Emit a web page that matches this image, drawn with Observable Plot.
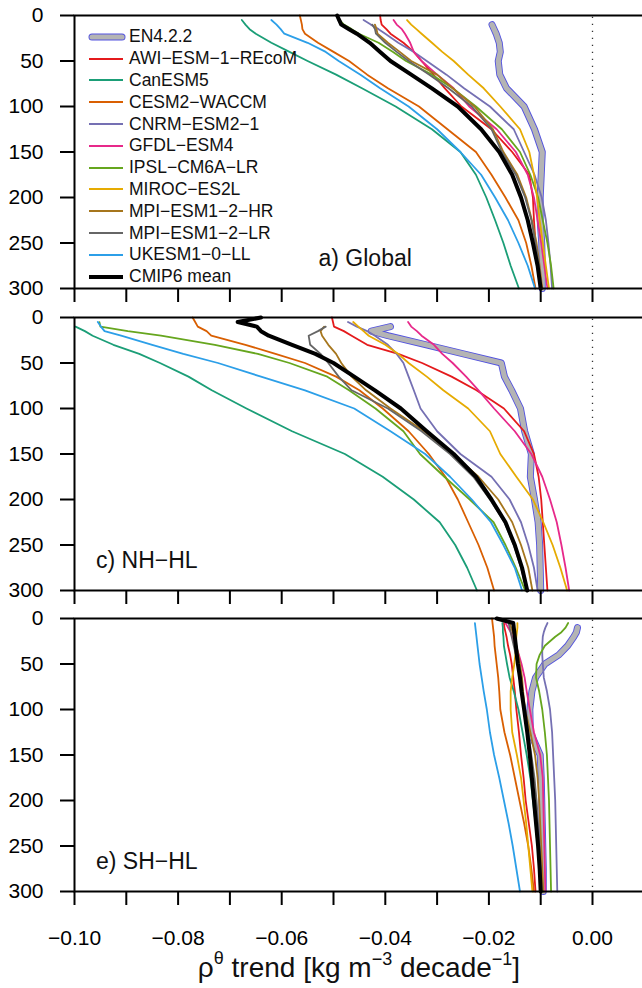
<!DOCTYPE html>
<html>
<head>
<meta charset="utf-8">
<script src="https://cdn.jsdelivr.net/npm/d3@7"></script>
<script src="https://cdn.jsdelivr.net/npm/@observablehq/plot@0.6"></script>
<style>
  html, body { margin: 0; padding: 0; background: #fff; overflow: hidden; }
  #wrap { position: relative; width: 642px; height: 988px; font-family: "Liberation Sans", Arial, Helvetica, sans-serif; }
  #wrap svg { display: block; }
  #legend { position: absolute; left: 88px; top: 26px; }
  .row { height: 21.8px; display: flex; align-items: center; font-size: 17.5px; color: #111; white-space: nowrap; }
  .row svg { margin-right: 3px; }
</style>
</head>
<body>
<div id="wrap"><div id="plots"></div><div id="legend"></div></div>
<script>
const N = null;
const depths = [0, 5, 10, 15, 20, 30, 40, 50, 65, 80, 100, 125, 150, 175, 200, 225, 250, 275, 300];

const models = ["EN4.2.2", "AWI−ESM−1−REcoM", "CanESM5", "CESM2−WACCM", "CNRM−ESM2−1", "GFDL−ESM4",
  "IPSL−CM6A−LR", "MIROC−ES2L", "MPI−ESM1−2−HR", "MPI−ESM1−2−LR", "UKESM1−0−LL", "CMIP6 mean"];
const colors = ["#b4b4b4", "#e41a1c", "#1b9e77", "#d95f02", "#7570b3", "#e7298a",
  "#66a61e", "#e6ab02", "#a6761d", "#666666", "#2c9fe8", "#000000"];

// a) Global
const globalTrend = [
  [N, N, -0.0194, -0.0190, -0.0186, -0.0180, -0.0178, -0.0182, -0.0179, -0.0166, -0.0132, -0.0112, -0.0097, -0.0099, -0.0101, -0.0101, -0.0098, -0.0097, -0.0097],
  [-0.0410, -0.0409, -0.0407, -0.0398, -0.0390, -0.0365, -0.0345, -0.0330, -0.0307, -0.0285, -0.0253, -0.0195, -0.0155, -0.0122, -0.0115, -0.0113, -0.0110, -0.0104, -0.0098],
  [N, -0.0677, -0.0670, -0.0662, -0.0650, -0.0620, -0.0585, -0.0550, -0.0495, -0.0445, -0.0380, -0.0310, -0.0255, -0.0225, -0.0205, -0.0188, -0.0172, -0.0158, -0.0142],
  [-0.0565, -0.0563, -0.0561, -0.0560, -0.0555, -0.0530, -0.0500, -0.0470, -0.0435, -0.0395, -0.0335, -0.0280, -0.0225, -0.0195, -0.0168, -0.0143, -0.0128, -0.0118, -0.0110],
  [N, -0.0442, -0.0428, -0.0413, -0.0400, -0.0375, -0.0345, -0.0320, -0.0282, -0.0248, -0.0198, -0.0152, -0.0132, -0.0112, -0.0098, -0.0090, -0.0085, -0.0081, -0.0078],
  [N, -0.0384, -0.0378, -0.0368, -0.0362, -0.0352, -0.0345, -0.0330, -0.0300, -0.0268, -0.0238, -0.0185, -0.0148, -0.0125, -0.0113, -0.0106, -0.0099, -0.0093, -0.0087],
  [N, -0.0488, -0.0480, -0.0465, -0.0451, -0.0413, -0.0385, -0.0360, -0.0310, -0.0270, -0.0225, -0.0175, -0.0140, -0.0120, -0.0105, -0.0096, -0.0087, -0.0080, -0.0075],
  [N, -0.0358, -0.0350, -0.0340, -0.0330, -0.0310, -0.0290, -0.0268, -0.0240, -0.0210, -0.0178, -0.0140, -0.0122, -0.0113, -0.0107, -0.0102, -0.0096, -0.0090, -0.0084],
  [N, N, -0.0420, -0.0417, -0.0415, -0.0395, -0.0372, -0.0350, -0.0300, -0.0270, -0.0228, -0.0192, -0.0172, -0.0145, -0.0128, -0.0117, -0.0108, -0.0102, -0.0097],
  [N, N, -0.0425, -0.0420, -0.0418, -0.0400, -0.0378, -0.0355, -0.0315, -0.0278, -0.0233, -0.0195, -0.0175, -0.0148, -0.0130, -0.0118, -0.0110, -0.0103, -0.0099],
  [N, -0.0620, -0.0610, -0.0602, -0.0595, -0.0550, -0.0515, -0.0490, -0.0448, -0.0410, -0.0355, -0.0300, -0.0255, -0.0215, -0.0188, -0.0163, -0.0143, -0.0125, -0.0111],
  [-0.0493, -0.0489, -0.0485, -0.0470, -0.0455, -0.0430, -0.0410, -0.0390, -0.0350, -0.0310, -0.0260, -0.0215, -0.0180, -0.0155, -0.0138, -0.0125, -0.0115, -0.0106, -0.0100]
];

// c) NH-HL
const nhTrend = [
  [N, N, -0.0390, -0.0427, -0.0395, -0.0321, -0.0249, -0.0176, -0.0170, -0.0156, -0.0139, -0.0131, -0.0118, -0.0120, -0.0112, -0.0105, -0.0102, -0.0101, -0.0100],
  [-0.0503, -0.0501, -0.0499, -0.0480, -0.0465, -0.0435, -0.0375, -0.0329, -0.0272, -0.0224, -0.0171, -0.0132, -0.0113, -0.0104, -0.0099, -0.0096, -0.0093, -0.0090, -0.0087],
  [N, N, -0.0998, -0.0980, -0.0965, -0.0925, -0.0875, -0.0835, -0.0780, -0.0735, -0.0668, -0.0580, -0.0478, -0.0405, -0.0345, -0.0295, -0.0265, -0.0242, -0.0223],
  [-0.0772, -0.0767, -0.0762, -0.0745, -0.0736, -0.0670, -0.0612, -0.0555, -0.0495, -0.0450, -0.0405, -0.0355, -0.0316, -0.0284, -0.0260, -0.0240, -0.0220, -0.0203, -0.0190],
  [N, -0.0472, -0.0455, -0.0435, -0.0420, -0.0395, -0.0378, -0.0365, -0.0355, -0.0345, -0.0332, -0.0300, -0.0255, -0.0195, -0.0160, -0.0138, -0.0124, -0.0113, -0.0106],
  [N, -0.0356, -0.0350, -0.0339, -0.0330, -0.0306, -0.0290, -0.0270, -0.0244, -0.0220, -0.0190, -0.0150, -0.0118, -0.0097, -0.0082, -0.0069, -0.0060, -0.0052, -0.0045],
  [N, -0.0952, -0.0950, -0.0897, -0.0833, -0.0729, -0.0646, -0.0585, -0.0512, -0.0470, -0.0419, -0.0365, -0.0333, -0.0286, -0.0237, -0.0191, -0.0168, -0.0148, -0.0130],
  [N, -0.0462, -0.0452, -0.0442, -0.0432, -0.0400, -0.0375, -0.0355, -0.0320, -0.0288, -0.0240, -0.0198, -0.0178, -0.0147, -0.0115, -0.0095, -0.0077, -0.0062, -0.0049],
  [N, N, -0.0518, -0.0525, -0.0522, -0.0510, -0.0495, -0.0485, -0.0465, -0.0437, -0.0390, -0.0325, -0.0270, -0.0220, -0.0182, -0.0155, -0.0138, -0.0124, -0.0116],
  [N, N, -0.0515, -0.0530, -0.0548, -0.0545, -0.0525, -0.0510, -0.0490, -0.0465, -0.0395, -0.0330, -0.0275, -0.0230, -0.0198, -0.0170, -0.0152, -0.0138, -0.0127],
  [N, -0.0955, -0.0949, -0.0942, -0.0910, -0.0850, -0.0790, -0.0723, -0.0640, -0.0555, -0.0460, -0.0390, -0.0323, -0.0275, -0.0233, -0.0196, -0.0172, -0.0150, -0.0136],
  [-0.0640, -0.0685, -0.0648, -0.0640, -0.0625, -0.0580, -0.0535, -0.0500, -0.0460, -0.0420, -0.0370, -0.0320, -0.0268, -0.0225, -0.0195, -0.0168, -0.0150, -0.0136, -0.0126]
];

// e) SH-HL
const shTrend = [
  [N, N, -0.0029, -0.0031, -0.0036, -0.0048, -0.0065, -0.0092, -0.0110, -0.0117, -0.0121, -0.0120, -0.0101, -0.0099, -0.0098, -0.0097, -0.0096, -0.0095, -0.0095],
  [N, -0.0171, -0.0170, -0.0168, -0.0166, -0.0163, -0.0159, -0.0156, -0.0153, -0.0150, -0.0147, -0.0142, -0.0138, -0.0133, -0.0129, -0.0123, -0.0117, -0.0113, -0.0110],
  [N, -0.0174, -0.0173, -0.0173, -0.0172, -0.0171, -0.0168, -0.0165, -0.0160, -0.0152, -0.0143, -0.0135, -0.0127, -0.0120, -0.0115, -0.0110, -0.0106, -0.0102, -0.0099],
  [-0.0194, -0.0193, -0.0192, -0.0191, -0.0190, -0.0189, -0.0187, -0.0185, -0.0182, -0.0180, -0.0178, -0.0170, -0.0159, -0.0150, -0.0141, -0.0132, -0.0124, -0.0118, -0.0113],
  [N, -0.0087, -0.0091, -0.0094, -0.0096, -0.0097, -0.0097, -0.0096, -0.0094, -0.0088, -0.0082, -0.0078, -0.0076, -0.0074, -0.0072, -0.0071, -0.0070, -0.0069, -0.0068],
  [N, -0.0168, -0.0163, -0.0158, -0.0155, -0.0148, -0.0142, -0.0137, -0.0131, -0.0127, -0.0121, -0.0113, -0.0101, -0.0096, -0.0095, -0.0094, -0.0093, -0.0092, -0.0091],
  [N, -0.0047, -0.0052, -0.0060, -0.0072, -0.0092, -0.0102, -0.0108, -0.0109, -0.0103, -0.0097, -0.0092, -0.0088, -0.0086, -0.0084, -0.0083, -0.0082, -0.0081, -0.0080],
  [N, -0.0145, -0.0145, -0.0146, -0.0147, -0.0148, -0.0149, -0.0151, -0.0155, -0.0158, -0.0158, -0.0155, -0.0146, -0.0138, -0.0133, -0.0128, -0.0124, -0.0120, -0.0116],
  [N, -0.0160, -0.0157, -0.0154, -0.0151, -0.0147, -0.0143, -0.0140, -0.0136, -0.0134, -0.0130, -0.0120, -0.0111, -0.0106, -0.0103, -0.0101, -0.0099, -0.0097, -0.0095],
  [N, -0.0162, -0.0160, -0.0158, -0.0156, -0.0152, -0.0148, -0.0145, -0.0140, -0.0136, -0.0130, -0.0124, -0.0118, -0.0112, -0.0108, -0.0105, -0.0102, -0.0100, -0.0098],
  [N, -0.0227, -0.0226, -0.0225, -0.0224, -0.0222, -0.0220, -0.0218, -0.0214, -0.0210, -0.0204, -0.0198, -0.0190, -0.0180, -0.0171, -0.0162, -0.0154, -0.0147, -0.0140],
  [-0.0185, -0.0153, -0.0152, -0.0151, -0.0150, -0.0148, -0.0146, -0.0144, -0.0140, -0.0137, -0.0132, -0.0126, -0.0121, -0.0117, -0.0113, -0.0109, -0.0105, -0.0102, -0.0100]
];

const panelLabels = ["a) Global", "c) NH−HL", "e) SH−HL"];
const xTicks = [-0.10, -0.09, -0.08, -0.07, -0.06, -0.05, -0.04, -0.03, -0.02, -0.01, 0.00];
const xTickLabels = ["−0.10", "", "−0.08", "", "−0.06", "", "−0.04", "", "−0.02", "", "0.00"];
const yTicks = [0, 50, 100, 150, 200, 250, 300];
const yTickLabels = ["0", "50", "100", "150", "200", "250", "300"];

const FONT = "'Liberation Sans', Arial, Helvetica, sans-serif";
const EN4_EDGE = "#5252e0";

function toRows(values) {
  const out = [];
  values.forEach((arr, i) => arr.forEach((v, j) => {
    if (v !== null) out.push({model: models[i], depth: depths[j], trend: v});
  }));
  return out;
}

function panel(values, label, cfg) {
  const rows = toRows(values);
  const en4 = rows.filter(r => r.model === models[0]);
  const mean = rows.filter(r => r.model === models[11]);
  const others = rows.filter(r => r.model !== models[0] && r.model !== models[11]);
  return Plot.plot({
    width: 642,
    height: cfg.height,
    marginLeft: 74,
    marginRight: -1.8,
    marginTop: cfg.marginTop,
    marginBottom: cfg.marginBottom,
    style: {fontFamily: FONT, background: "white", color: "black"},
    x: {domain: [-0.10, 0.01], axis: null},
    y: {domain: [0, 300], reverse: true, axis: null},
    color: {domain: models, range: colors},
    marks: [
      Plot.ruleX([0], {stroke: "#333", strokeWidth: 1.3, strokeDasharray: "1.3,5.7", y1: 2, y2: 298}),
      Plot.line(en4, {x: "trend", y: "depth", stroke: EN4_EDGE, strokeWidth: 7, strokeLinecap: "round", strokeLinejoin: "round"}),
      Plot.line(en4, {x: "trend", y: "depth", stroke: "#b4b4b4", strokeWidth: 5.2, strokeLinecap: "round", strokeLinejoin: "round"}),
      Plot.line(others, {x: "trend", y: "depth", stroke: "model", strokeWidth: 1.8, strokeLinejoin: "round"}),
      Plot.line(mean, {x: "trend", y: "depth", stroke: "black", strokeWidth: 4, strokeLinejoin: "round"}),
      Plot.frame({stroke: "black", strokeWidth: 2}),
      Plot.axisY({ticks: yTicks, tickSize: 14, tickPadding: 17, fontSize: 21, strokeWidth: 2,
        tickFormat: d => yTickLabels[yTicks.indexOf(d)], label: null}),
      Plot.axisX({ticks: xTicks, anchor: "bottom", tickSize: 14, tickPadding: 25, fontSize: 21, strokeWidth: 2,
        tickFormat: d => cfg.showX ? xTickLabels[xTicks.indexOf(d)] : "", label: null}),
      Plot.text([label], {frameAnchor: "bottom-left", textAnchor: "start", lineAnchor: "middle",
        dx: cfg.labelDx, dy: -29.5, fontSize: 23, fill: "#111"})
    ]
  });
}

const host = document.getElementById("plots");
host.appendChild(panel(globalTrend, panelLabels[0], {height: 302, marginTop: 15, marginBottom: 14, showX: false, labelDx: 244}));
host.appendChild(panel(nhTrend, panelLabels[1], {height: 302, marginTop: 15, marginBottom: 14, showX: false, labelDx: 21.5}));
const bottom = panel(shTrend, panelLabels[2], {height: 384, marginTop: 14, marginBottom: 97, showX: true, labelDx: 21.5});
host.appendChild(bottom);

// x-axis title with superscripts
const t = d3.select(bottom).append("text")
  .attr("x", 359).attr("y", 373).attr("text-anchor", "middle")
  .attr("font-size", 28).attr("font-family", FONT).attr("fill", "#111");
t.append("tspan").text("ρ");
t.append("tspan").attr("dy", -13).attr("font-size", 18).text("θ");
t.append("tspan").attr("dy", 13).text(" trend [kg m");
t.append("tspan").attr("dy", -12).attr("font-size", 18).text("−3");
t.append("tspan").attr("dy", 12).text(" decade");
t.append("tspan").attr("dy", -12).attr("font-size", 18).text("−1");
t.append("tspan").attr("dy", 12).text("]");

// legend
const legend = d3.select("#legend");
models.forEach((m, i) => {
  const row = legend.append("div").attr("class", "row");
  const sw = row.append("svg").attr("width", 38).attr("height", 10);
  if (i === 0) {
    sw.append("line").attr("x1", 4).attr("x2", 34).attr("y1", 5).attr("y2", 5)
      .attr("stroke", EN4_EDGE).attr("stroke-width", 7).attr("stroke-linecap", "round");
    sw.append("line").attr("x1", 4).attr("x2", 34).attr("y1", 5).attr("y2", 5)
      .attr("stroke", "#b4b4b4").attr("stroke-width", 5.2).attr("stroke-linecap", "round");
  } else {
    sw.append("line").attr("x1", 1).attr("x2", 35).attr("y1", 5).attr("y2", 5)
      .attr("stroke", colors[i]).attr("stroke-width", i === 11 ? 4 : 1.8);
  }
  row.append("span").text(m);
});
</script>
</body>
</html>
